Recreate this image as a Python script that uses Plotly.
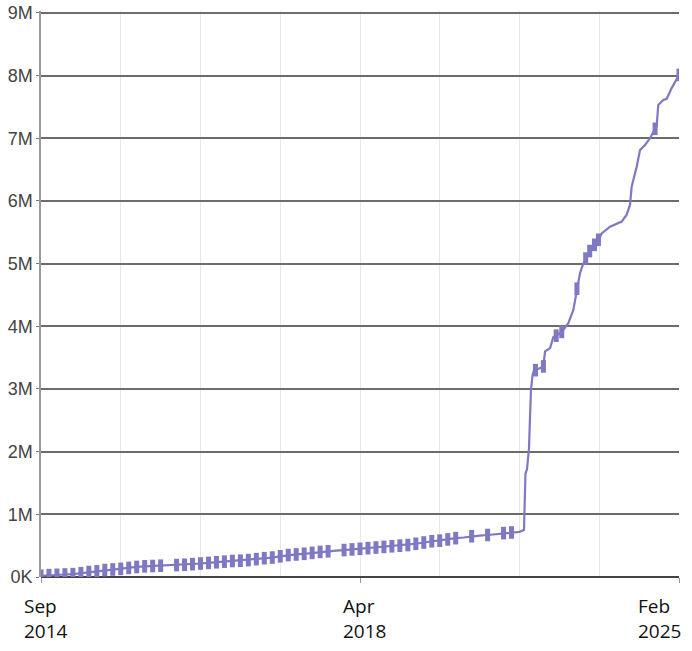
import plotly.graph_objects as go

# position index along the (non-linear) release axis, cumulative total (millions), marker flag
pos = [0, 1, 2, 3, 4, 5, 6, 7, 8, 9, 10, 11, 12, 13, 14, 15, 16, 17, 18, 19,
       20, 21, 22, 23, 24, 25, 26, 27, 28, 29, 30, 31, 32, 33, 34, 35, 36, 37, 38, 39,
       40, 41, 42, 43, 44, 45, 46, 47, 48, 49, 50, 51, 52, 53, 54, 55, 56, 57, 58, 59,
       60, 60.56, 60.75, 60.94, 61.19, 61.32, 61.44, 61.63, 61.82, 62.0, 62.57, 63.0,
       63.2, 63.83, 64.24, 64.6, 65.3, 66.12, 66.75, 67.2, 67.59, 68.0, 68.3, 68.8,
       69.4, 69.9, 70.3, 71.35, 72.82, 73.44, 73.86, 74.07, 74.7, 75.11, 75.74, 76.36,
       77.0, 77.2, 77.4, 78.03, 78.46, 79.08, 80]
total_m = [0.02, 0.03, 0.035, 0.04, 0.045, 0.06, 0.08, 0.09, 0.11, 0.12, 0.13, 0.145, 0.16, 0.17, 0.175, 0.18, 0.185, 0.19, 0.195, 0.205,
           0.215, 0.225, 0.235, 0.245, 0.255, 0.26, 0.27, 0.285, 0.30, 0.31, 0.33, 0.35, 0.36, 0.37, 0.385, 0.40, 0.41, 0.42, 0.43, 0.44,
           0.45, 0.46, 0.47, 0.48, 0.49, 0.50, 0.51, 0.53, 0.55, 0.57, 0.58, 0.60, 0.62, 0.63, 0.65, 0.66, 0.67, 0.68, 0.70, 0.71,
           0.72, 0.75, 1.65, 1.72, 2.05, 2.56, 2.98, 3.22, 3.30, 3.30, 3.33, 3.36,
           3.60, 3.65, 3.83, 3.85, 3.91, 4.05, 4.26, 4.60, 4.85, 5.00, 5.08, 5.20,
           5.30, 5.38, 5.48, 5.59, 5.67, 5.78, 5.94, 6.23, 6.55, 6.81, 6.89, 7.00,
           7.15, 7.19, 7.53, 7.61, 7.63, 7.80, 8.01]
marked = [1, 1, 1, 1, 1, 1, 1, 1, 1, 1, 1, 1, 1, 1, 1, 1, 0, 1, 1, 1,
          1, 1, 1, 1, 1, 1, 1, 1, 1, 1, 1, 1, 1, 1, 1, 1, 1, 0, 1, 1,
          1, 1, 1, 1, 1, 1, 1, 1, 1, 1, 1, 1, 1, 0, 1, 0, 1, 0, 1, 1,
          0, 0, 0, 0, 0, 0, 0, 0, 0, 1, 0, 1,
          0, 0, 0, 1, 1, 0, 0, 1, 0, 0, 1, 1,
          1, 1, 0, 0, 0, 0, 0, 0, 0, 0, 0, 0,
          1, 0, 0, 0, 0, 0, 1]

y_tickvals = [0, 1, 2, 3, 4, 5, 6, 7, 8, 9]
y_ticktext = ["0K", "1M", "2M", "3M", "4M", "5M", "6M", "7M", "8M", "9M"]
x_label_pos = [0, 40, 80]
x_labels = ["Sep<br>2014", "Apr<br>2018", "Feb<br>2025"]

COLOR = "#7f78c2"
values = [v * 1e6 for v in total_m]

fig = go.Figure()
fig.add_trace(go.Scatter(x=pos, y=values, mode="lines",
                         line=dict(color=COLOR, width=2.2), hoverinfo="skip"))
mx = [p for p, m in zip(pos, marked) if m]
my = [v for v, m in zip(values, marked) if m]
fig.add_trace(go.Scatter(x=mx, y=my, mode="markers",
                         marker=dict(symbol="line-ns", size=9, color=COLOR,
                                     line=dict(color=COLOR, width=5))))

fig.update_layout(
    width=692, height=651,
    margin=dict(l=41, r=13, t=11, b=74, autoexpand=False),
    paper_bgcolor="white", plot_bgcolor="white",
    showlegend=False,
    xaxis=dict(range=[0, 80], tickvals=x_label_pos, ticktext=["", "", ""],
               showticklabels=False, ticks="outside", ticklen=5, tickcolor="#999",
               showgrid=True, gridcolor="#e8e8e8", gridwidth=1,
               minor=dict(dtick=10, tick0=0, showgrid=True, gridcolor="#e8e8e8", gridwidth=1, ticks=""),
               zeroline=False, showline=False, automargin=False),
    yaxis=dict(range=[0, 9.03e6], tickvals=[v * 1e6 for v in y_tickvals], ticktext=y_ticktext,
               ticks="outside", ticklen=3, tickcolor="#777", automargin=False,
               ticklabeloverflow="allow",
               tickfont=dict(family="Liberation Sans Narrow, Arial Narrow, Liberation Sans", size=18, color="#444"),
               showgrid=True, gridcolor="#6c6c6c", gridwidth=2,
               zeroline=True, zerolinecolor="#444", zerolinewidth=2,
               showline=True, linecolor="#999", linewidth=1.5),
)

shifts = [-19, -19, 4]
anchors = ["left", "left", "right"]
for p, t, s, a in zip(x_label_pos, x_labels, shifts, anchors):
    fig.add_annotation(x=p, xref="x", y=0, yref="paper", yanchor="top", yshift=-14,
                       xanchor=a, xshift=s, align="left", showarrow=False, text=t,
                       font=dict(family="Open Sans", size=19, color="#111"))

fig.write_html("out.html", config={"displayModeBar": False},
               post_script="document.body.style.margin='0';")
